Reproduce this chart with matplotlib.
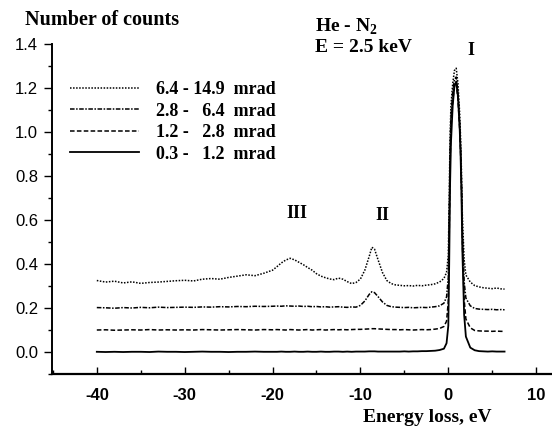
import matplotlib
matplotlib.use("Agg")
import matplotlib.pyplot as plt
from matplotlib.ticker import MultipleLocator, FormatStrFormatter

plt.rcParams["axes.unicode_minus"] = False
plt.rcParams["mathtext.fontset"] = "custom"
plt.rcParams["mathtext.rm"] = "Liberation Serif"
plt.rcParams["mathtext.bf"] = "Liberation Serif:bold"

# energy loss grid (eV), shared by all four spectra
energy = [-40, -39, -38, -37, -36, -35, -34, -33, -32, -31,
          -30, -29, -28, -27, -26, -25, -24, -23, -22, -21,
          -20, -19.5, -19, -18.5, -18, -17.5, -17, -16.5, -16, -15.5,
          -15, -14.5, -14, -13.5, -13, -12.5, -12, -11.5, -11, -10.5,
          -10, -9.5, -9, -8.7, -8.4, -8, -7.5, -7, -6.5, -6,
          -5.5, -5, -4.5, -4, -3.5, -3, -2.5, -2, -1.5, -1,
          -0.5, -0.2, 0.0, 0.1, 0.2, 0.3, 0.5, 0.7, 0.9, 1.1,
          1.3, 1.4, 1.5, 1.6, 1.8, 2.0, 2.5, 3.0, 3.5, 4.0,
          4.5, 5.0, 5.5, 6.0, 6.4]

# 6.4 - 14.9 mrad (offset +0.3)
counts_64_149 = [0.325, 0.318, 0.322, 0.314, 0.319, 0.312, 0.316, 0.318, 0.321, 0.324,
                 0.326, 0.323, 0.331, 0.334, 0.331, 0.339, 0.345, 0.351, 0.347, 0.358,
                 0.372, 0.388, 0.405, 0.418, 0.426, 0.419, 0.408, 0.397, 0.384, 0.372,
                 0.356, 0.345, 0.338, 0.332, 0.329, 0.336, 0.331, 0.320, 0.311, 0.316,
                 0.332, 0.372, 0.435, 0.476, 0.468, 0.420, 0.362, 0.325, 0.311, 0.305,
                 0.303, 0.301, 0.302, 0.300, 0.303, 0.301, 0.304, 0.306, 0.310, 0.318,
                 0.334, 0.362, 0.44, 0.70, 0.98, 1.12, 1.22, 1.28, 1.29, 1.22,
                 1.08, 0.97, 0.82, 0.62, 0.42, 0.35, 0.318, 0.302, 0.296, 0.292,
                 0.290, 0.288, 0.291, 0.287, 0.286]

# 2.8 - 6.4 mrad (offset +0.2)
counts_28_64 = [0.202, 0.201, 0.199, 0.202, 0.200, 0.203, 0.201, 0.204, 0.202, 0.203,
                0.204, 0.203, 0.205, 0.204, 0.206, 0.205, 0.207, 0.206, 0.208, 0.207,
                0.208, 0.209, 0.208, 0.210, 0.209, 0.208, 0.209, 0.207, 0.208, 0.206,
                0.207, 0.205, 0.206, 0.204, 0.205, 0.206, 0.204, 0.203, 0.205, 0.204,
                0.212, 0.232, 0.262, 0.274, 0.270, 0.252, 0.228, 0.212, 0.206, 0.204,
                0.203, 0.202, 0.203, 0.201, 0.202, 0.203, 0.202, 0.204, 0.206, 0.210,
                0.222, 0.25, 0.34, 0.62, 0.92, 1.07, 1.18, 1.24, 1.25, 1.18,
                1.04, 0.93, 0.78, 0.56, 0.32, 0.245, 0.21, 0.198, 0.195, 0.194,
                0.193, 0.194, 0.192, 0.193, 0.192]

# 1.2 - 2.8 mrad (offset +0.1)
counts_12_28 = [0.100, 0.101, 0.099, 0.100, 0.101, 0.100, 0.102, 0.100, 0.101, 0.100,
                0.101, 0.100, 0.102, 0.101, 0.100, 0.101, 0.102, 0.101, 0.100, 0.102,
                0.101, 0.102, 0.101, 0.100, 0.102, 0.101, 0.100, 0.101, 0.102, 0.100,
                0.101, 0.102, 0.100, 0.101, 0.102, 0.101, 0.102, 0.101, 0.102, 0.103,
                0.103, 0.104, 0.105, 0.106, 0.106, 0.105, 0.104, 0.103, 0.102, 0.102,
                0.101, 0.102, 0.101, 0.100, 0.101, 0.102, 0.101, 0.102, 0.104, 0.107,
                0.116, 0.14, 0.23, 0.52, 0.85, 1.02, 1.14, 1.21, 1.22, 1.15,
                1.01, 0.90, 0.74, 0.50, 0.24, 0.15, 0.11, 0.098, 0.096, 0.095,
                0.095, 0.094, 0.095, 0.094, 0.094]

# 0.3 - 1.2 mrad
counts_03_12 = [0.001, 0.000, 0.001, 0.000, 0.001, 0.001, 0.000, 0.002, 0.001, 0.001,
                0.000, 0.001, 0.002, 0.001, 0.001, 0.000, 0.001, 0.001, 0.002, 0.001,
                0.001, 0.001, 0.002, 0.001, 0.001, 0.002, 0.001, 0.001, 0.002, 0.001,
                0.001, 0.002, 0.001, 0.001, 0.002, 0.002, 0.001, 0.002, 0.001, 0.002,
                0.002, 0.002, 0.003, 0.003, 0.003, 0.002, 0.002, 0.002, 0.002, 0.002,
                0.002, 0.003, 0.002, 0.003, 0.003, 0.004, 0.004, 0.005, 0.006, 0.009,
                0.015, 0.04, 0.12, 0.40, 0.76, 0.95, 1.12, 1.21, 1.23, 1.16,
                1.01, 0.89, 0.71, 0.46, 0.17, 0.07, 0.02, 0.008, 0.004, 0.003,
                0.002, 0.003, 0.002, 0.002, 0.002]

labels = ["6.4 - 14.9  mrad", "2.8 -   6.4  mrad", "1.2 -   2.8  mrad", "0.3 -   1.2  mrad"]

serif = "Liberation Serif"
sans = "Liberation Sans"

fig = plt.figure(figsize=(5.52, 4.30), dpi=100)
ax = fig.add_axes([0.0942, 0.1302, 0.9058, 0.7674])

ax.plot(energy, counts_64_149, color="black", lw=1.1, ls=(0, (1, 1)), label=labels[0])
ax.plot(energy, counts_28_64, color="black", lw=1.1, ls=(0, (3, 1, 1, 1)), label=labels[1])
ax.plot(energy, counts_12_28, color="black", lw=1.1, ls=(0, (3, 1.5)), label=labels[2])
ax.plot(energy, counts_03_12, color="black", lw=1.3, ls="-", label=labels[3])

ax.set_xlim(-45.1, 11.8)
ax.set_ylim(-0.1, 1.4)

ax.spines["top"].set_visible(False)
ax.spines["right"].set_visible(False)
ax.spines["left"].set_linewidth(1.4)
ax.spines["bottom"].set_linewidth(1.6)

ax.xaxis.set_major_locator(MultipleLocator(10))
ax.xaxis.set_minor_locator(MultipleLocator(5))
ax.yaxis.set_major_locator(MultipleLocator(0.2))
ax.yaxis.set_minor_locator(MultipleLocator(0.1))
ax.yaxis.set_major_formatter(FormatStrFormatter("%.1f"))

ax.tick_params(axis="x", which="major", direction="in", length=5, width=1, pad=10)
ax.tick_params(axis="x", which="minor", direction="in", length=3, width=1)
ax.tick_params(axis="y", which="major", direction="out", length=6, width=1, pad=4)
ax.tick_params(axis="y", which="minor", direction="out", length=3, width=1)

for lab in ax.get_xticklabels():
    lab.set_fontfamily(sans)
    lab.set_fontweight("bold")
    lab.set_fontsize(12)
for lab in ax.get_yticklabels():
    lab.set_fontfamily(sans)
    lab.set_fontsize(12)

ax.set_xlabel("Energy loss, eV", fontfamily=serif, fontweight="bold", fontsize=14)
ax.xaxis.set_label_coords(0.75, -0.105)

fig.text(25 / 552, 1 - 20 / 430, "Number of counts", fontfamily=serif,
         fontweight="bold", fontsize=14.5, va="center", ha="left")
fig.text(315 / 552, 1 - 27 / 430, "He - N$_\\mathbf{2}$", fontfamily=serif,
         fontweight="bold", fontsize=14, va="center", ha="left")
fig.text(315 / 552, 1 - 48 / 430, "E = 2.5 keV", fontfamily=serif,
         fontweight="bold", fontsize=14, va="center", ha="left")

# peak labels
ax.text(2.6, 1.37, "I", fontfamily=serif, fontweight="bold", fontsize=13, ha="center", va="center")
ax.text(-7.5, 0.62, "II", fontfamily=serif, fontweight="bold", fontsize=13, ha="center", va="center")
ax.text(-17.2, 0.63, "III", fontfamily=serif, fontweight="bold", fontsize=13, ha="center", va="center")

leg = ax.legend(loc="upper left", bbox_to_anchor=(70 / 552, 1 - 81 / 430),
                bbox_transform=fig.transFigure, frameon=False,
                prop={"family": serif, "weight": "bold", "size": 13},
                handlelength=3.8, handletextpad=0.95, labelspacing=0.25,
                borderpad=0, borderaxespad=0)

fig.savefig("out.png", dpi=100)
